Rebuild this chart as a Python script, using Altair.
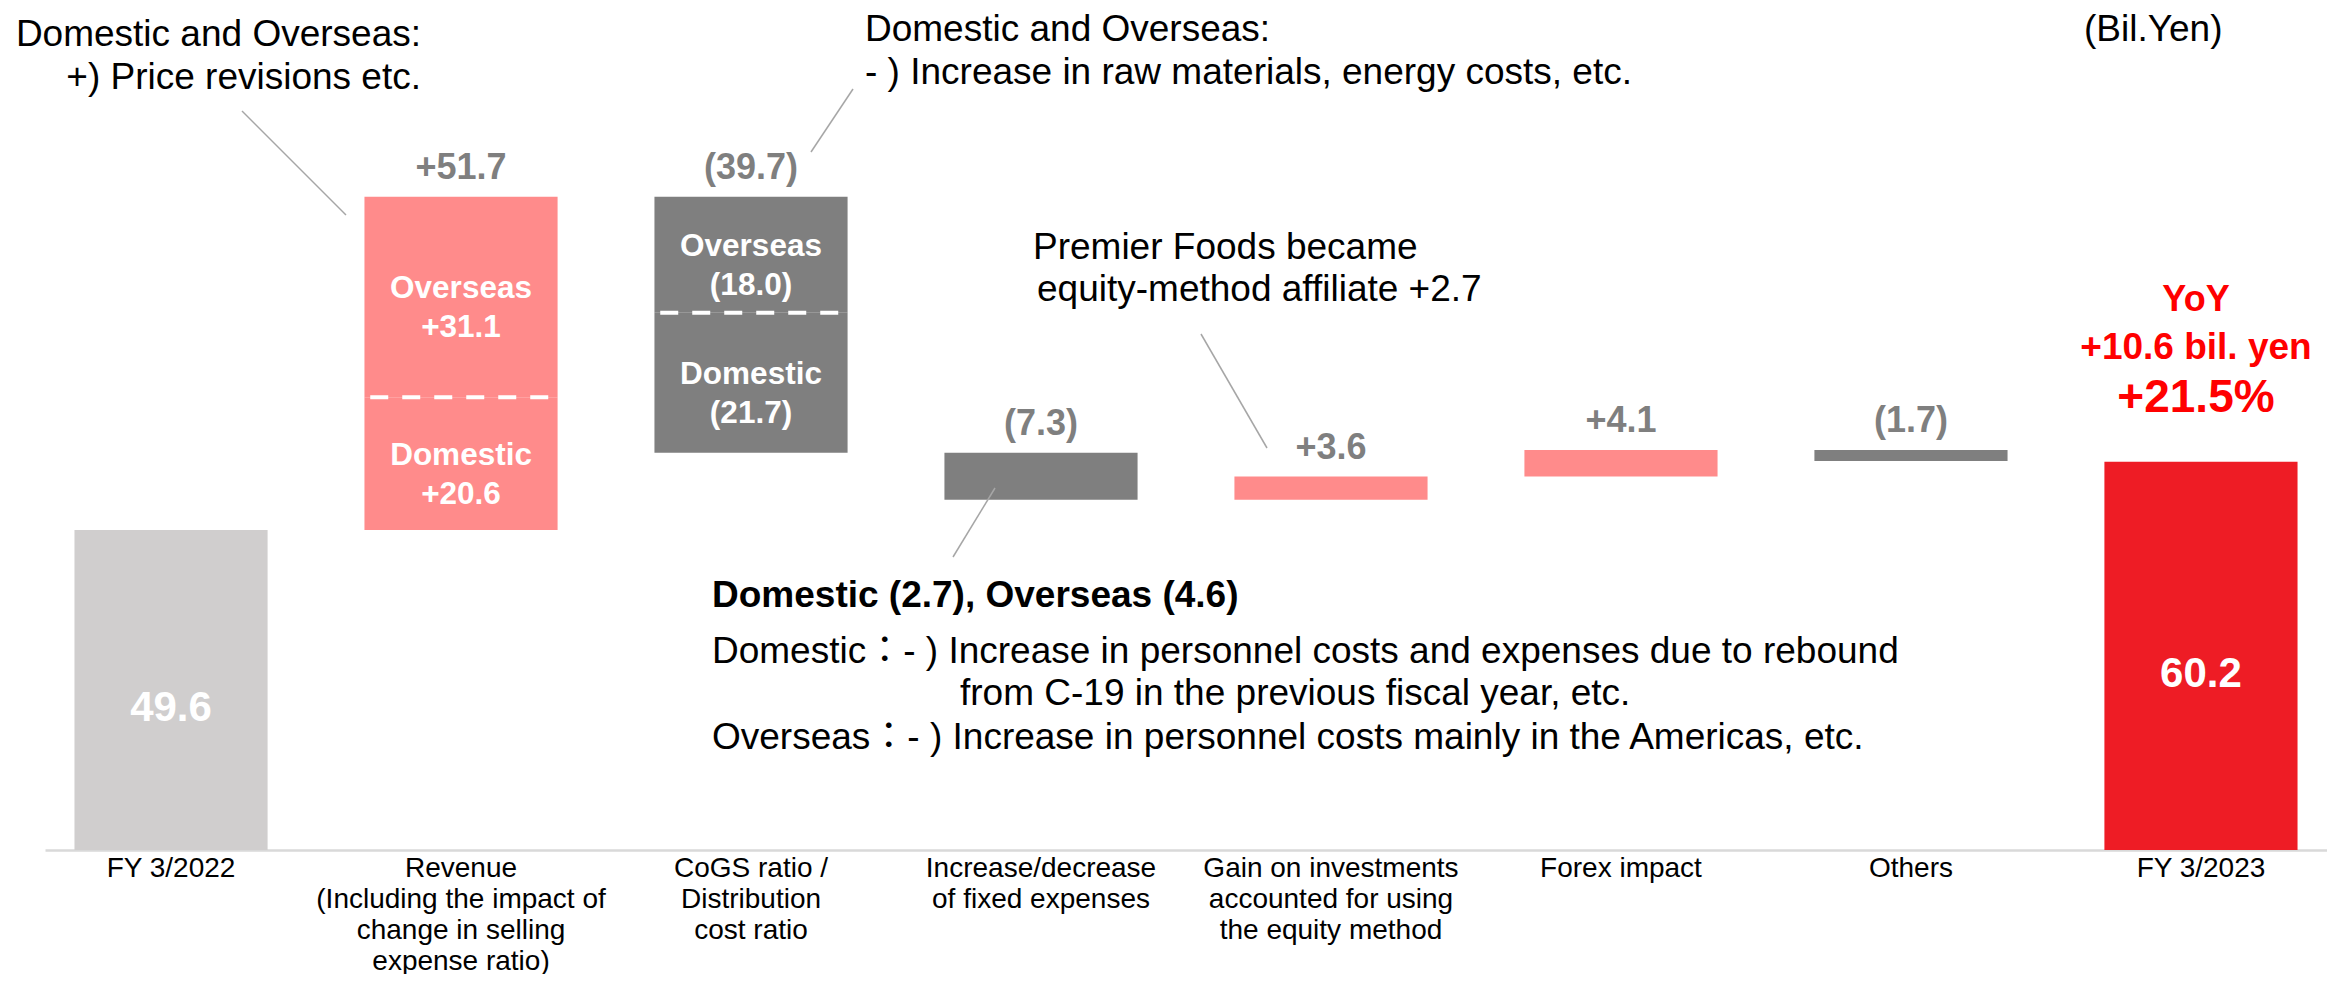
import altair as alt
import pandas as pd

# ---------------- data ----------------
categories = [
    "FY 3/2022",
    "Revenue\n(Including the impact of\nchange in selling\nexpense ratio)",
    "CoGS ratio /\nDistribution\ncost ratio",
    "Increase/decrease\nof fixed expenses",
    "Gain on investments\naccounted for using\nthe equity method",
    "Forex impact",
    "Others",
    "FY 3/2023",
]
start_value = 49.6
end_value = 60.2
total_labels = ["49.6", "60.2"]
change_values = [51.7, -39.7, -7.3, 3.6, 4.1, -1.7]
change_labels = ["+51.7", "(39.7)", "(7.3)", "+3.6", "+4.1", "(1.7)"]

revenue_parts = ["Domestic", "Overseas"]          # bottom -> top
revenue_part_values = [20.6, 31.1]
revenue_part_labels = ["+20.6", "+31.1"]
cogs_parts = ["Overseas", "Domestic"]             # top -> bottom
cogs_part_values = [-18.0, -21.7]
cogs_part_labels = ["(18.0)", "(21.7)"]

yoy_lines = ["YoY", "+10.6 bil. yen", "+21.5%"]

# ---------------- build tables ----------------
bars, parts, splits, tops = [], [], [], []
bars.append(dict(category=categories[0], y0=0.0, y1=start_value, kind="prev"))
level = start_value
for i, (cat, v, lab) in enumerate(zip(categories[1:7], change_values, change_labels)):
    kind = "up" if v > 0 else "down"
    if i == 0:
        names, vals, labs = revenue_parts, revenue_part_values, revenue_part_labels
    elif i == 1:
        names, vals, labs = cogs_parts, cogs_part_values, cogs_part_labels
    else:
        names, vals, labs = [None], [v], [None]
    seg_start = level
    for j, (n, pv, pl) in enumerate(zip(names, vals, labs)):
        seg_end = round(seg_start + pv, 1)
        bars.append(dict(category=cat, y0=seg_start, y1=seg_end, kind=kind))
        if n is not None:
            parts.append(dict(category=cat, mid=(seg_start + seg_end) / 2, text=n + "\n" + pl))
            if j < len(names) - 1:
                splits.append(dict(category=cat, split=seg_end))
        seg_start = seg_end
    end = round(level + v, 1)
    tops.append(dict(category=cat, top=max(level, end), label=lab))
    level = end
bars.append(dict(category=categories[7], y0=0.0, y1=end_value, kind="now"))

bars_df = pd.DataFrame(bars)
parts_df = pd.DataFrame(parts)
splits_df = pd.DataFrame(splits)
tops_df = pd.DataFrame(tops)
totals_df = pd.DataFrame(dict(category=[categories[0], categories[7]],
                              mid=[start_value / 2, end_value / 2],
                              label=total_labels))
yoy_df = pd.DataFrame(dict(category=[categories[7]], top=[end_value]))

# ---------------- styling ----------------
FONT = "Liberation Sans, Arial, Noto Sans CJK JP, sans-serif"
PLOT_W, PLOT_H = 2282, 842
Y_MAX = 130.55

xscale = alt.Scale(domain=categories, paddingInner=0.334, paddingOuter=0.1016)
yscale = alt.Scale(domain=[0, Y_MAX], nice=False, zero=True)

X = alt.X("category:N", sort=categories, scale=xscale,
          axis=alt.Axis(title=None, labelAngle=0, ticks=False, grid=False,
                        domainColor="#d9d9d9", domainWidth=2.5,
                        labelFont=FONT, labelFontSize=28, labelColor="#000000",
                        labelLineHeight=31, labelPadding=4, labelLimit=0,
                        labelOverlap=False, labelBound=False,
                        labelExpr="split(datum.label, '\\n')"))

bar_layer = alt.Chart(bars_df).mark_bar().encode(
    x=X,
    y=alt.Y("y1:Q", scale=yscale, axis=None),
    y2="y0:Q",
    color=alt.Color("kind:N", legend=None,
                    scale=alt.Scale(domain=["prev", "up", "down", "now"],
                                    range=["#d0cece", "#ff8b8b", "#7f7f7f", "#ee1c25"])),
)

split_layer = alt.Chart(splits_df).mark_rule(
    color="white", strokeWidth=4, strokeDash=[18, 14]
).encode(
    x=alt.X("category:N", sort=categories, bandPosition=0.03),
    x2=alt.X2("category:N", bandPosition=0.97),
    y=alt.Y("split:Q"),
)

parts_layer = alt.Chart(parts_df).mark_text(
    font=FONT, fontSize=31.5, fontWeight="bold", color="white",
    baseline="middle", lineBreak="\n", lineHeight=39, dy=-8,
).encode(x=alt.X("category:N", sort=categories), y="mid:Q", text="text:N")

tops_layer = alt.Chart(tops_df).mark_text(
    font=FONT, fontSize=36, fontWeight="bold", color="#7f7f7f",
    baseline="alphabetic", dy=-18,
).encode(x=alt.X("category:N", sort=categories), y="top:Q", text="label:N")

totals_layer = alt.Chart(totals_df).mark_text(
    font=FONT, fontSize=42, fontWeight="bold", color="white",
    baseline="middle", dy=18,
).encode(x=alt.X("category:N", sort=categories), y="mid:Q", text="label:N")

yoy_layers = []
for txt, size, off in zip(yoy_lines, [36, 37, 46], [-151, -103, -50]):
    yoy_layers.append(
        alt.Chart(yoy_df).mark_text(
            font=FONT, fontSize=size, fontWeight="bold", color="#ff0000",
            baseline="alphabetic", dy=off, dx=-5,
        ).encode(x=alt.X("category:N", sort=categories), y="top:Q", text=alt.value(txt))
    )

# ---------------- annotations (plot-pixel placement) ----------------
def note(text, x, y, align="left", bold=False, size=37):
    return alt.Chart(yoy_df).mark_text(
        font=FONT, fontSize=size, fontWeight="bold" if bold else "normal",
        color="#000000", align=align, baseline="alphabetic",
        lineBreak="\n", lineHeight=43,
    ).encode(x=alt.value(x), y=alt.value(y), text=alt.value(text))

def leader(x1, y1, x2, y2):
    return alt.Chart(yoy_df).mark_rule(color="#a6a6a6", strokeWidth=1.5).encode(
        x=alt.value(x1), y=alt.value(y1), x2=alt.value(x2), y2=alt.value(y2))

notes = [
    note("Domestic and Overseas:\n+) Price revisions etc.", 376, 38, align="right"),
    note("Domestic and Overseas:\n- ) Increase in raw materials, energy costs, etc.", 820, 33),
    note("(Bil.Yen)", 2039, 33),
    note("Premier Foods became", 988, 251),
    note("equity-method affiliate +2.7", 992, 293),
    note("Domestic (2.7), Overseas (4.6)", 667, 599, bold=True),
    note("Domestic：- ) Increase in personnel costs and expenses due to rebound", 667, 655),
    note("from C-19 in the previous fiscal year, etc.", 915, 697),
    note("Overseas：- ) Increase in personnel costs mainly in the Americas, etc.", 667, 741),
    leader(197, 103, 301, 207),
    leader(808, 81, 766, 144),
    leader(950, 480, 908, 549),
    leader(1156, 326, 1222, 440),
]

chart = alt.layer(
    bar_layer, split_layer, parts_layer, tops_layer, totals_layer, *yoy_layers, *notes
).properties(
    width=PLOT_W, height=PLOT_H,
    autosize=alt.AutoSizeParams(type="none"),
    padding={"left": 37, "top": 0, "right": 0, "bottom": 124},
    background="white",
).configure(
    font=FONT,
    view=alt.ViewConfig(strokeWidth=0, stroke=None),
)

chart.save("out.html", embed_options={"renderer": "svg", "actions": False})
